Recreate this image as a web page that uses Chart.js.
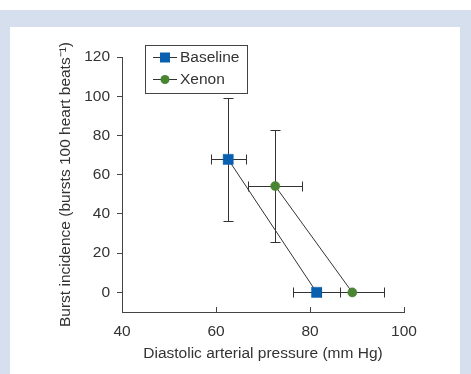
<!DOCTYPE html>
<html>
<head>
<meta charset="utf-8">
<script src="https://cdn.jsdelivr.net/npm/chart.js@4"></script>
<style>
  html, body { margin: 0; padding: 0; background: #ffffff; }
  #bg { position: absolute; left: 0; top: 10px; width: 471px; height: 364px; background: #d6dfee; }
  #panel { position: absolute; left: 10px; top: 27px; width: 450px; height: 347px; background: #ffffff; }
  #wrap { position: absolute; left: 0; top: 0; width: 471px; height: 374px; }
</style>
</head>
<body>
<div id="bg"></div>
<div id="panel"></div>
<div id="wrap"><canvas id="c" width="471" height="374"></canvas></div>
<script>
// ---- data ----
const seriesNames = ['Baseline', 'Xenon'];
const baselineX = [62.6, 81.4];
const baselineY = [67.8, 0];
const baselineXErr = [3.7, 5.0];
const baselineYErr = [31.2, 0];
const xenonX = [72.6, 89.0];
const xenonY = [54.2, 0];
const xenonXErr = [5.75, 6.7];
const xenonYErr = [28.6, 0];
const xTickValues = [40, 60, 80, 100];
const yTickValues = [0, 20, 40, 60, 80, 100, 120];
const xTitle = 'Diastolic arterial pressure (mm Hg)';
const yTitle = 'Burst incidence (bursts 100 heart beats\u207B\u00B9)';

const BLUE = '#0a60b0';
const GREEN = '#4a8534';
const INK = '#333333';
const FONT = "'Liberation Sans', Arial, Helvetica, sans-serif";

function pts(xs, ys) { return xs.map((x, i) => ({ x: x, y: ys[i] })); }

const errorBars = {
  id: 'errorBars',
  beforeDatasetsDraw(chart) {
    const { ctx } = chart;
    const xs = chart.scales.x, ys = chart.scales.y;
    ctx.save();
    ctx.strokeStyle = INK;
    ctx.lineWidth = 1;
    const cap = 5;
    chart.data.datasets.forEach(ds => {
      ds.data.forEach((p, i) => {
        const px = Math.round(xs.getPixelForValue(p.x)) + 0.5;
        const py = Math.round(ys.getPixelForValue(p.y)) + 0.5;
        const xe = ds.xErr[i], ye = ds.yErr[i];
        ctx.beginPath();
        if (xe) {
          const l = Math.round(xs.getPixelForValue(p.x - xe)) + 0.5;
          const r = Math.round(xs.getPixelForValue(p.x + xe)) + 0.5;
          ctx.moveTo(l, py); ctx.lineTo(r, py);
          ctx.moveTo(l, py - cap); ctx.lineTo(l, py + cap);
          ctx.moveTo(r, py - cap); ctx.lineTo(r, py + cap);
        }
        if (ye) {
          const t = Math.round(ys.getPixelForValue(p.y + ye)) + 0.5;
          const b = Math.round(ys.getPixelForValue(p.y - ye)) + 0.5;
          ctx.moveTo(px, t); ctx.lineTo(px, b);
          ctx.moveTo(px - cap, t); ctx.lineTo(px + cap, t);
          ctx.moveTo(px - cap, b); ctx.lineTo(px + cap, b);
        }
        ctx.stroke();
      });
    });
    ctx.restore();
  }
};

const inwardXTicks = {
  id: 'inwardXTicks',
  afterDraw(chart) {
    const { ctx } = chart;
    const xs = chart.scales.x;
    const y0 = chart.chartArea.bottom;
    ctx.save();
    ctx.strokeStyle = '#444';
    ctx.lineWidth = 1;
    ctx.beginPath();
    xs.ticks.forEach(t => {
      const px = Math.round(xs.getPixelForValue(t.value)) + 0.5;
      ctx.moveTo(px, y0); ctx.lineTo(px, y0 - 5);
    });
    ctx.stroke();
    ctx.restore();
  }
};

const boxLegend = {
  id: 'boxLegend',
  afterDraw(chart) {
    const { ctx } = chart;
    const bx = 145.5, by = 45.5, bw = 102, bh = 48;
    ctx.save();
    ctx.strokeStyle = '#444';
    ctx.lineWidth = 1;
    ctx.fillStyle = '#fff';
    ctx.fillRect(bx, by, bw, bh);
    ctx.strokeRect(bx, by, bw, bh);
    chart.data.datasets.forEach((ds, i) => {
      const cy = 57.5 + i * 22;
      ctx.strokeStyle = INK;
      ctx.beginPath(); ctx.moveTo(153, cy); ctx.lineTo(177, cy); ctx.stroke();
      ctx.fillStyle = ds.pointBackgroundColor;
      if (ds.pointStyle === 'rect') {
        ctx.fillRect(160, cy - 5, 10, 10);
      } else {
        ctx.beginPath(); ctx.arc(165, cy, 4.5, 0, Math.PI * 2); ctx.fill();
      }
      ctx.fillStyle = INK;
      ctx.font = '15.5px ' + FONT;
      ctx.textBaseline = 'middle';
      ctx.textAlign = 'left';
      ctx.fillText(ds.label, 180, cy + 0.5);
    });
    ctx.restore();
  }
};

new Chart(document.getElementById('c'), {
  type: 'scatter',
  data: {
    datasets: [
      {
        label: seriesNames[0],
        data: pts(baselineX, baselineY),
        xErr: baselineXErr, yErr: baselineYErr,
        showLine: true,
        borderColor: INK, borderWidth: 1,
        pointStyle: 'rect', pointRadius: 7.2,
        pointBackgroundColor: BLUE, pointBorderColor: BLUE, pointBorderWidth: 0.5
      },
      {
        label: seriesNames[1],
        data: pts(xenonX, xenonY),
        xErr: xenonXErr, yErr: xenonYErr,
        showLine: true,
        borderColor: INK, borderWidth: 1,
        pointStyle: 'circle', pointRadius: 4.6,
        pointBackgroundColor: GREEN, pointBorderColor: GREEN, pointBorderWidth: 0.5
      }
    ]
  },
  options: {
    responsive: false,
    animation: false,
    devicePixelRatio: 1,
    layout: { padding: { left: 0, right: 67, top: 57, bottom: 0 } },
    plugins: { legend: { display: false }, tooltip: { enabled: false } },
    scales: {
      x: {
        type: 'linear', min: 40, max: 100,
        afterBuildTicks: s => { s.ticks = xTickValues.map(v => ({ value: v })); },
        afterFit: s => { s.height = 62; },
        border: { display: true, color: '#444', width: 1 },
        grid: { display: true, drawOnChartArea: false, drawTicks: false },
        ticks: { color: INK, font: { family: FONT, size: 15.5 }, padding: 10, maxRotation: 0 },
        title: { display: true, text: xTitle, color: INK, font: { family: FONT, size: 15.5 }, padding: { top: 0, bottom: 11 } }
      },
      y: {
        type: 'linear', min: -10, max: 120,
        afterBuildTicks: s => { s.ticks = yTickValues.map(v => ({ value: v })); },
        afterFit: s => { s.width = 122; },
        border: { display: true, color: '#444', width: 1 },
        grid: { display: true, drawOnChartArea: false, drawTicks: true, tickLength: 5, color: '#444' },
        ticks: { color: INK, font: { family: FONT, size: 15.5 }, padding: 7 },
        title: { display: true, text: yTitle, color: INK, font: { family: FONT, size: 15.5 }, padding: { top: 56, bottom: 0 } }
      }
    }
  },
  plugins: [errorBars, inwardXTicks, boxLegend]
});
</script>
</body>
</html>
